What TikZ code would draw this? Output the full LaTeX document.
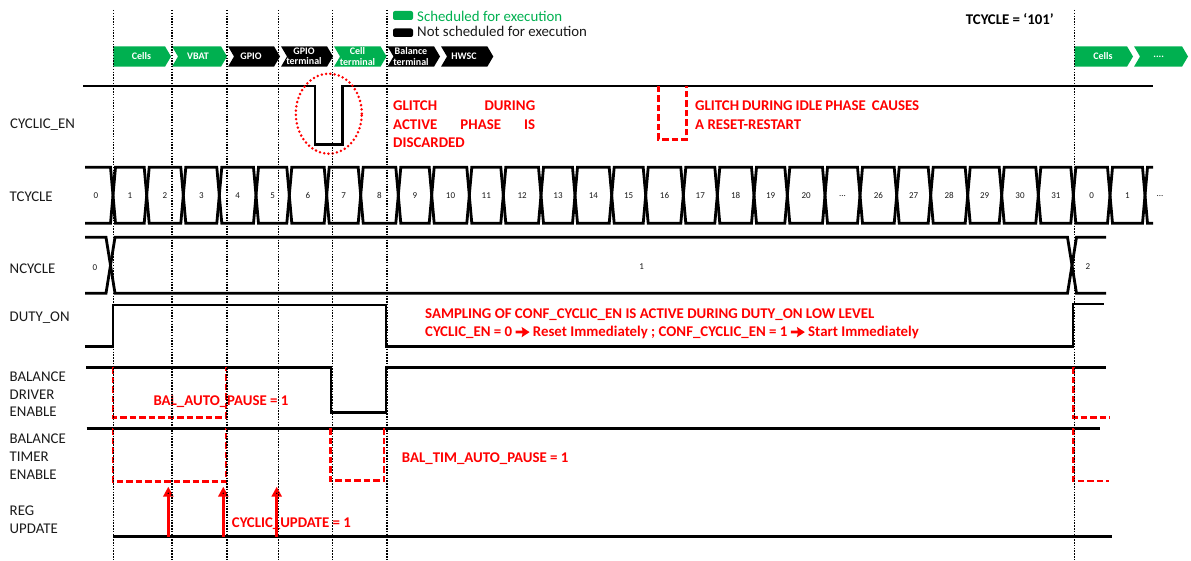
\documentclass[tikz,border=0pt]{standalone}
\usepackage{fontspec}
\setmainfont{Carlito}
\usetikzlibrary{arrows.meta}
\definecolor{okgreen}{HTML}{00B050}
\definecolor{redc}{HTML}{FF0000}
\definecolor{labc}{HTML}{1A1A1A}
\newcommand\labfont{\fontsize{14.85}{17.5}\selectfont}
\newcommand\busfont{\fontsize{9}{10}\selectfont}
\newcommand\chevfont{\fontsize{10}{10.5}\selectfont\bfseries}
\newcommand\tdots{...}
\newcommand\chevron[4]{\fill[#3] (#1,46.3) -- ({#2-6},46.3) -- (#2,56.5) -- ({#2-6},66.7) -- (#1,66.7) -- ({#1+#4},56.5) -- cycle;}
\newcommand\rarr{\tikz[baseline=0pt]{\fill[redc] (0pt,3.2pt) -- (7pt,3.2pt) -- (6pt,-0.6pt) -- (14pt,4.6pt) -- (6pt,9.8pt) -- (7pt,6pt) -- (0pt,6pt) -- cycle;}}
\begin{document}
\begin{tikzpicture}[x=1pt,y=-1pt,
  sig/.style={line width=2.8pt, line join=miter},
  vdot/.style={line width=1.6pt, dash pattern=on 1.5pt off 1.3pt},
  reddash/.style={draw=redc, line width=2.8pt, dash pattern=on 6.5pt off 3pt},
  reddot/.style={draw=redc, line width=2.8pt, dash pattern=on 0pt off 4.3pt, line cap=round},
  redarrow/.style={draw=redc, line width=2.6pt, -{Triangle[width=10pt,length=10pt]}},
  lab/.style={font=\labfont, text=labc, inner sep=0pt, anchor=base west},
  redtxt/.style={font=\labfont\bfseries, text=redc, inner sep=0pt, anchor=base west},
  busnum/.style={font=\busfont, text=labc, inner sep=0pt},
  chevtxt/.style={font=\chevfont, text=white, inner sep=0pt, align=center},
]
\useasboundingbox (0,0) rectangle (1191,561);

% ---------- legend ----------
\fill[okgreen, rounded corners=2pt] (393,11) rectangle (413,20);
\fill[black, rounded corners=2pt] (393,28.5) rectangle (413,37);
\node[font=\labfont, text=okgreen, inner sep=0pt, anchor=base west] (legg) at (417,21.3) {Scheduled for execution};
\node[lab] (legb) at (417,36.7) {Not scheduled for execution};
\node[font=\labfont\bfseries, text=black, inner sep=0pt, anchor=base west] (tcval) at (965.7,25) {TCYCLE = ‘101’};

% ---------- chevrons ----------
\chevron{113.3}{171}{okgreen}{0}
\chevron{172}{227}{okgreen}{6}
\chevron{228}{280}{black}{6}
\chevron{281}{333}{black}{6}
\chevron{334}{386.5}{okgreen}{6}
\chevron{387.5}{440}{black}{6}
\chevron{441}{493.3}{black}{6}
\chevron{1074.5}{1133}{okgreen}{0}
\chevron{1134}{1188}{okgreen}{6}
\node[chevtxt] (c1) at (141.5,56.5) {Cells};
\node[chevtxt] (c2) at (198,56.5) {VBAT};
\node[chevtxt] (c3) at (251,56.5) {GPIO};
\node[chevtxt] (c4) at (304,56.5) {GPIO\\terminal};
\node[chevtxt] (c5) at (357.5,56.5) {Cell\\terminal};
\node[chevtxt] (c6) at (411,56.5) {Balance\\terminal};
\node[chevtxt] (c7) at (464,56.5) {HWSC};
\node[chevtxt] (c8) at (1103,56.5) {Cells};
\node[chevtxt] (c9) at (1158.7,56.5) {....};

% ---------- signal labels ----------
\node[lab] (lcyc) at (10,128.3) {CYCLIC\_EN};
\node[lab] (ltc) at (9.5,201.7) {TCYCLE};
\node[lab] (lnc) at (9.5,274) {NCYCLE};
\node[lab] (ldu) at (9.5,321.7) {DUTY\_ON};
\node[lab] (lbd1) at (9.5,381.7) {BALANCE};
\node[lab] (lbd2) at (9.5,399.3) {DRIVER};
\node[lab] (lbd3) at (9.5,416.7) {ENABLE};
\node[lab] (lbt1) at (9.5,443.3) {BALANCE};
\node[lab] (lbt2) at (9.5,461) {TIMER};
\node[lab] (lbt3) at (9.5,479) {ENABLE};
\node[lab] (lru1) at (9.5,515) {REG};
\node[lab] (lru2) at (9.5,533.3) {UPDATE};

% ---------- CYCLIC_EN ----------
\draw[sig] (83,86) -- (315,86) -- (315,144.3) -- (342.3,144.3) -- (342.3,86) -- (1153,86);
\draw[reddot] (328.8,113.7) ellipse [x radius=33pt, y radius=40pt];
\draw[reddash] (658.3,86) -- (658.3,139.3) -- (686.7,139.3) -- (686.7,86);
\node[redtxt] (g1) at (393,111) {\makebox[142pt][s]{GLITCH DURING}};
\node[redtxt] (g2) at (393,129.3) {\makebox[142pt][s]{ACTIVE PHASE IS}};
\node[redtxt] (g3) at (393,147.3) {DISCARDED};
\node[redtxt] (h1) at (695,111) {\makebox[224pt][s]{GLITCH DURING IDLE PHASE\ \ CAUSES}};
\node[redtxt] (h2) at (695,129.3) {A RESET-RESTART};

% ---------- TCYCLE bus ----------
\draw[sig] (85,167.3) -- (110.5,167.3) -- (113,195.3) -- (110.5,223.3) -- (85,223.3);
\node[busnum] (tc0) at (96,195.8) {0};
\foreach \a/\b/\l [count=\i] in {113/146.7/1, 146.7/183.3/2, 183.3/219.3/3, 219.3/256/4, 256/289.3/5, 289.3/326.7/6, 326.7/360.7/7, 360.7/398.3/8, 398.3/431.7/9, 431.7/469.3/10, 469.3/503.3/11, 503.3/541/12, 541/575/13, 575/611.7/14, 611.7/645.7/15, 645.7/683.3/16, 683.3/717.3/17, 717.3/754/18, 754/787.3/19, 787.3/825/20, 825/860/\tdots, 860/896.7/26, 896.7/930.7/27, 930.7/967.7/28, 967.7/1001.7/29, 1001.7/1038.3/30, 1038.3/1073.3/31, 1073.3/1110/0, 1110/1145/1}{
  \draw[sig] ({\a+2.5},167.3) -- ({\b-2.5},167.3) -- (\b,195.3) -- ({\b-2.5},223.3) -- ({\a+2.5},223.3) -- (\a,195.3) -- cycle;
  \node[busnum] (tc\i) at ({(\a+\b)/2},195.8) {\l};
}
\draw[sig] (1153,167.3) -- (1147.5,167.3) -- (1145,195.3) -- (1147.5,223.3) -- (1153,223.3);
\node[busnum] (tcend) at (1160,195.8) {...};

% ---------- NCYCLE bus ----------
\draw[sig] (85,237.3) -- (106,237.3) -- (115,293.3) -- (1067.5,293.3) -- (1076.5,237.3) -- (1106,237.3);
\draw[sig] (85,293.3) -- (106,293.3) -- (115,237.3) -- (1067.5,237.3) -- (1076.5,293.3) -- (1106,293.3);
\node[busnum] (nc0) at (95,268) {0};
\node[busnum] (nc1) at (641.7,266.5) {1};
\node[busnum] (nc2) at (1088,266.5) {2};

% ---------- DUTY_ON ----------
\draw[sig] (85,346.7) -- (113,346.7) -- (113,305) -- (386,305) -- (386,346.7) -- (1073,346.7) -- (1073,304) -- (1104,304);
\node[redtxt] (s1) at (425,318.3) {SAMPLING OF CONF\_CYCLIC\_EN IS ACTIVE DURING DUTY\_ON LOW LEVEL};
\node[redtxt] (s2) at (425,336.7) {CYCLIC\_EN = 0 \rarr\ Reset Immediately ; CONF\_CYCLIC\_EN = 1 \rarr\ Start Immediately};

% ---------- BALANCE DRIVER ENABLE ----------
\draw[sig] (86,367.3) -- (331,367.3) -- (331,412.7) -- (386,412.7) -- (386,367.3) -- (1106,367.3);
\draw[reddash] (113,367.3) -- (113,417.3) -- (226,417.3) -- (226,367.3);
\draw[reddash] (1073.5,367.3) -- (1073.5,417.3) -- (1110,417.3);
\node[redtxt] (bap) at (153.3,405) {BAL\_AUTO\_PAUSE = 1};

% ---------- BALANCE TIMER ENABLE ----------
\draw[sig] (86.7,428.3) -- (1100,428.3);
\draw[reddash] (113,428.3) -- (113,481.7) -- (226,481.7) -- (226,428.3);
\draw[reddash] (330.5,428.3) -- (330.5,480.7) -- (384,480.7) -- (384,428.3);
\draw[reddash] (1073.5,428.3) -- (1073.5,481) -- (1109,481);
\node[redtxt] (btp) at (401.7,462.7) {BAL\_TIM\_AUTO\_PAUSE = 1};

% ---------- REG UPDATE ----------
\draw[sig] (113,536.7) -- (1111.7,536.7);
\coordinate (ra1) at (168.3,536.7); \coordinate (rb1) at (168.3,486.7);
\coordinate (ra2) at (223.3,536.7); \coordinate (rb2) at (223.3,486.7);
\coordinate (ra3) at (276.7,536.7); \coordinate (rb3) at (276.7,486.7);
\draw[redarrow] (ra1) -- (rb1);
\draw[redarrow] (ra2) -- (rb2);
\draw[redarrow] (ra3) -- (rb3);
\node[redtxt] (cup) at (231.7,527.3) {CYCLIC\_UPDATE = 1};

% ---------- vertical dotted guides ----------
\foreach \x [count=\k] in {113.3,171.7,226.7,278.3,332.3,386.7,1074.5}{
  \coordinate (vt\k) at (\x,10);
  \coordinate (vb\k) at (\x,561);
  \draw[vdot] (vt\k) -- (vb\k);
}
\end{tikzpicture}
\end{document}
